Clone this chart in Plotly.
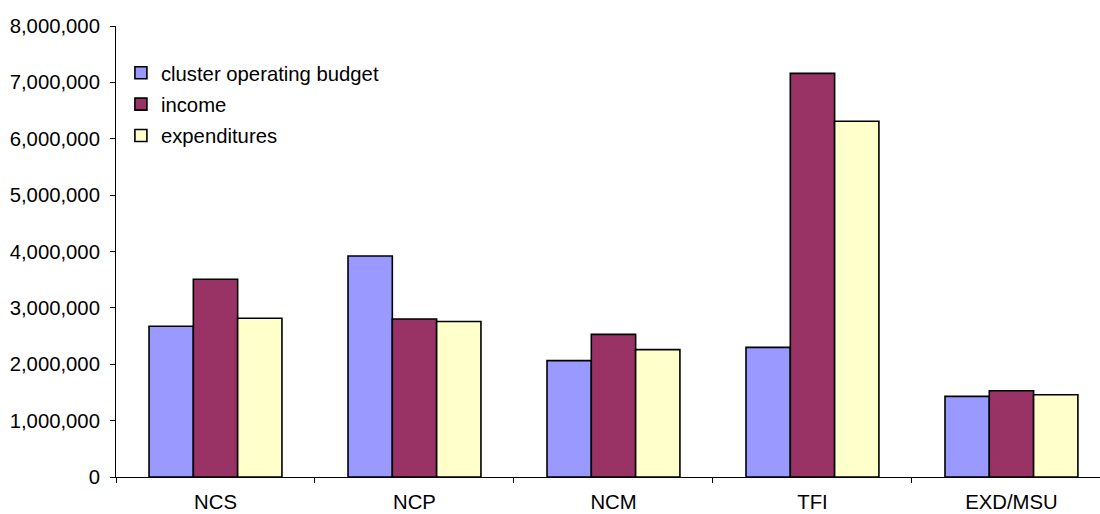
import plotly.graph_objects as go

categories = ["NCS", "NCP", "NCM", "TFI", "EXD/MSU"]
budget = [2673000, 3920000, 2065000, 2300000, 1430000]
income = [3507000, 2803000, 2530000, 7160000, 1530000]
expenditures = [2815000, 2757000, 2260000, 6310000, 1460000]

series = [
    ("cluster operating budget", budget, "#9999FF"),
    ("income", income, "#993366"),
    ("expenditures", expenditures, "#FFFFCC"),
]

FONT = "Liberation Sans, Arial, sans-serif"
FS = 20.3

fig = go.Figure()
for i, (name, vals, col) in enumerate(series):
    fig.add_trace(go.Bar(
        x=categories, y=vals, name=name, legendgroup=str(i),
        marker=dict(color=col, line=dict(color="#000000", width=1.6)),
    ))

fig.update_layout(
    width=1100, height=514,
    margin=dict(l=116, r=0, t=26, b=37, pad=0),
    paper_bgcolor="white", plot_bgcolor="white",
    font=dict(family=FONT, size=FS, color="#000000"),
    barmode="group", bargap=0.332, bargroupgap=0,
    showlegend=True,
    legend=dict(
        x=0.005, y=0.94, xanchor="left", yanchor="top",
        bgcolor="rgba(0,0,0,0)", borderwidth=0,
        font=dict(family=FONT, size=FS, color="#000000"),
        tracegroupgap=2, itemclick=False,
    ),
    xaxis=dict(
        range=[-0.5, 4.445], showline=True, linecolor="#000000", linewidth=1,
        ticks="outside", tickson="boundaries", ticklen=5, tickcolor="#000000",
        ticklabelstandoff=7, automargin=False,
        showgrid=False, zeroline=False, fixedrange=True,
    ),
    yaxis=dict(
        range=[0, 8000000], dtick=1000000, tickformat=",d",
        showline=True, linecolor="#000000", linewidth=1,
        ticks="outside", ticklen=5, tickcolor="#000000",
        ticklabelstandoff=6, automargin=False,
        showgrid=False, zeroline=False, fixedrange=True,
    ),
)

fig.write_html("out.html", config={"displayModeBar": False},
               post_script="document.body.style.margin='0';")
